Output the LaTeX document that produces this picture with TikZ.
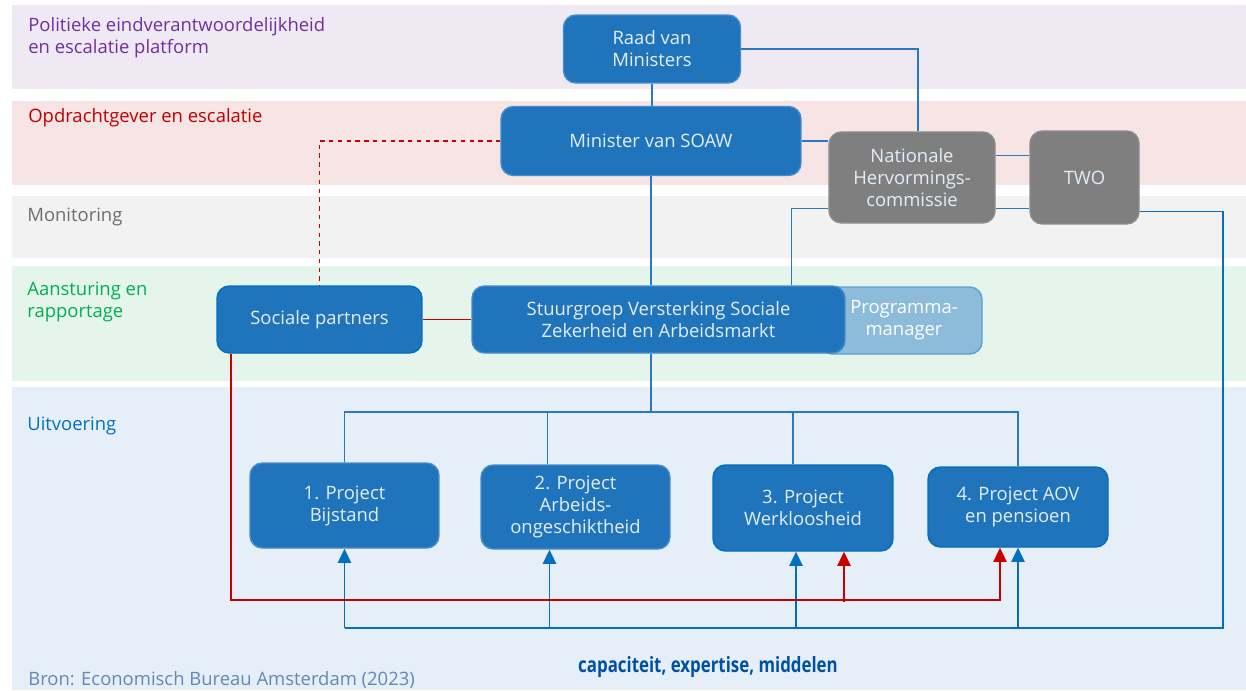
\documentclass[tikz,border=0pt]{standalone}
\usepackage{fontspec}
\setmainfont{Open Sans}
\newfontfamily\narrowfont{Open Sans}[FakeStretch=0.8]
\usetikzlibrary{arrows.meta,calc}

\definecolor{boxblue}{RGB}{31,116,188}
\definecolor{boxedge}{RGB}{70,140,205}
\definecolor{boxtext}{RGB}{228,238,248}
\definecolor{nhcgrey}{RGB}{127,127,127}
\definecolor{nhcedge}{RGB}{140,140,140}
\definecolor{progfill}{RGB}{140,188,218}
\definecolor{progedge}{RGB}{95,158,210}
\definecolor{linkblue}{RGB}{40,120,195}
\definecolor{arrowblue}{RGB}{0,112,192}
\definecolor{linkred}{RGB}{200,0,0}
\definecolor{bandpurple}{RGB}{239,233,244}
\definecolor{bandpink}{RGB}{247,228,228}
\definecolor{bandgrey}{RGB}{242,242,242}
\definecolor{bandgreen}{RGB}{229,245,236}
\definecolor{bandblue}{RGB}{230,239,248}
\definecolor{labpurple}{RGB}{112,48,160}
\definecolor{labred}{RGB}{192,0,0}
\definecolor{labgrey}{RGB}{110,110,110}
\definecolor{labgreen}{RGB}{0,176,80}
\definecolor{labblue}{RGB}{0,112,192}
\definecolor{bronblue}{RGB}{100,135,185}
\definecolor{resblue}{RGB}{0,80,165}

\begin{document}
\begin{tikzpicture}[x=0.02cm,y=-0.02cm,
    font=\fontsize{10.5}{12.5}\selectfont,
    orgbox/.style={draw=boxedge, fill=boxblue, text=boxtext, rounded corners=7pt,
        line width=0.8pt, align=center, inner sep=0pt},
    govbox/.style={orgbox, draw=nhcedge, fill=nhcgrey},
    lane/.style={anchor=west, align=left, inner sep=0pt},
    link/.style={draw=linkblue, line width=0.75pt},
    redlink/.style={draw=linkred, line width=0.75pt},
    feed/.style={draw=arrowblue, line width=0.9pt, -{Triangle[length=8pt,width=7.5pt]}},
    redfeed/.style={redlink, line width=0.9pt, -{Triangle[length=8pt,width=7.5pt]}}]

    \useasboundingbox (0,0) rectangle (1246,690);

    % lanes
    \fill[bandpurple] (12,5) rectangle (1246,89);
    \fill[bandpink] (12,101) rectangle (1246,185);
    \fill[bandgrey] (12,196) rectangle (1246,258);
    \fill[bandgreen] (12,266) rectangle (1246,381);
    \fill[bandblue] (12,387) rectangle (1246,690);

    \node[lane, text=labpurple] (lpol) at (28,38) {Politieke eindverantwoordelijkheid\\en escalatie platform};
    \node[lane, text=labred] (lopd) at (28,118) {Opdrachtgever en escalatie};
    \node[lane, text=labgrey] (lmon) at (27,217) {Monitoring};
    \node[lane, text=labgreen] (laan) at (27,302) {Aansturing en\\rapportage};
    \node[lane, text=labblue] (luit) at (27,426) {Uitvoering};

    % boxes
    \node[orgbox, minimum width=3.54cm, minimum height=1.36cm] (raad) at (652,49) {Raad van\\Ministers};
    \node[orgbox, minimum width=6cm, minimum height=1.38cm] (min) at (651,141) {Minister van SOAW};
    \node[govbox, minimum width=3.32cm, minimum height=1.82cm] (nhc) at (912,177.5) {Nationale\\Hervormings-\\commissie};
    \node[govbox, minimum width=2.18cm, minimum height=1.86cm] (two) at (1084.5,177.5) {TWO};
    \node[orgbox, draw=progedge, fill=progfill, text=white, minimum width=3.24cm, minimum height=1.34cm] (prog) at (901,320.5) {\hspace*{0.12cm}Programma-\\\hspace*{0.12cm}manager};
    \node[orgbox, minimum width=7.46cm, minimum height=1.34cm] (stuur) at (658.5,319.5) {Stuurgroep Versterking Sociale\\Zekerheid en Arbeidsmarkt};
    \node[orgbox, draw=arrowblue, minimum width=4.1cm, minimum height=1.34cm] (soc) at (319.5,319.5) {Sociale partners};

    \node[orgbox, minimum width=3.78cm, minimum height=1.7cm] (p1) at (344.5,505.5) {1. Project\\Bijstand};
    \node[orgbox, minimum width=3.78cm, minimum height=1.68cm] (p2) at (575.5,507) {2. Project\\Arbeids-\\ongeschiktheid};
    \node[orgbox, draw=arrowblue, minimum width=3.6cm, minimum height=1.72cm] (p3) at (803,508) {3. Project\\Werkloosheid};
    \node[orgbox, draw=arrowblue, minimum width=3.6cm, minimum height=1.6cm] (p4) at (1018,507) {4. Project AOV\\en pensioen};

    \coordinate (split) at (651,412);
    \coordinate (bus) at (1223,628);
    \coordinate (redbus) at (231,600);

    % lines
    \draw[link] (raad.south) -- (raad.south |- min.north);
    \draw[link] (raad.east) -| ($(nhc.north)+(6,0)$);
    \draw[link] (min.east) -- (min.east -| nhc.west);
    \draw[link] ($(nhc.east)+(0,-22)$) -- ($(two.west)+(0,-22)$);
    \draw[link] ($(nhc.east)+(0,31)$) -- ($(two.west)+(0,31)$);
    \draw[link] ($(nhc.west)+(0,31)$) -| ($(stuur.north)+(133,0)$);
    \draw[link] (min.south) -- (min.south |- stuur.north);
    \draw[link] (min.south |- stuur.south) -- (split);
    \draw[link] (p1.north) -- (p1.north |- split) -- (p4.north |- split) -- (p4.north);
    \draw[link] ($(p2.north)+(-28,0)$) -- ($(p2.north |- split)+(-28,0)$);
    \draw[link] ($(p3.north)+(-10,0)$) -- ($(p3.north |- split)+(-10,0)$);
    \draw[link, draw=arrowblue, line width=0.9pt] ($(two.east)+(0,34)$) -| (bus) -- (bus -| p1.south);

    \draw[feed] (bus -| p1.south) -- (p1.south);
    \draw[feed] ($(bus -| p2.south)+(-26,0)$) -- ($(p2.south)+(-26,0)$);
    \draw[feed] ($(bus -| p3.south)+(-7,0)$) -- ($(p3.south)+(-7,0)$);
    \draw[feed] (bus -| p4.south) -- (p4.south);

    \draw[redlink] (soc.east) -- (stuur.west);
    \draw[redlink, dash pattern=on 2.5pt off 2.5pt] (min.west) -| (soc.north);
    \draw[redfeed] (soc.south -| redbus) -- (redbus) -| ($(p4.south)+(-18,0)$);
    \draw[redfeed] ($(p3.south |- redbus)+(41,2)$) -- ($(p3.south)+(41,0)$);

    % footer
    \node[text=resblue, font=\narrowfont\bfseries\fontsize{12}{14}\selectfont] (res) at (708,667) {capaciteit, expertise, middelen};
    \node[lane, text=bronblue] (bron) at (28,680) {Bron: Economisch Bureau Amsterdam (2023)};
\end{tikzpicture}
\end{document}
